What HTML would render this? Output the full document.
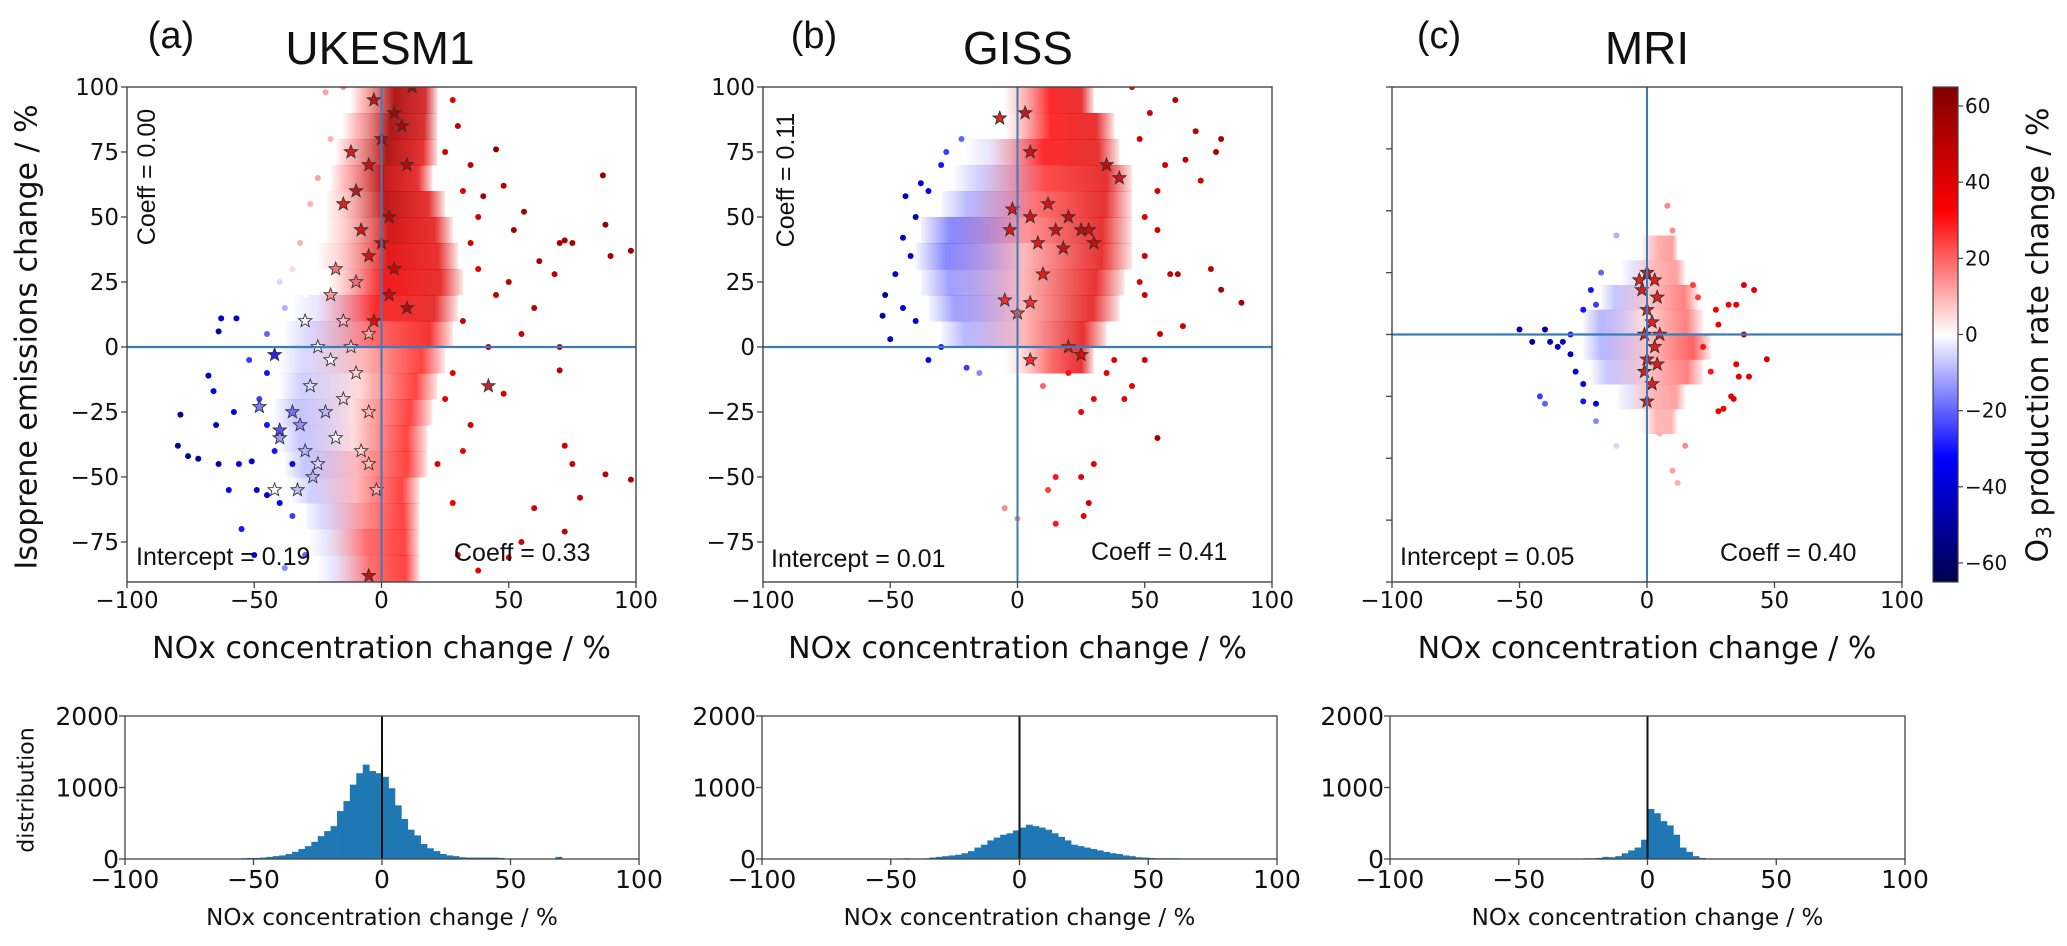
<!DOCTYPE html>
<html><head><meta charset="utf-8">
<style>
html,body{margin:0;padding:0;background:#fff;}
svg{display:block;}
text{font-family:"DejaVu Sans","Liberation Sans",sans-serif;fill:#111;}
.ar{font-family:"Liberation Sans",Arial,sans-serif;}
</style></head>
<body>
<svg id="fig" xmlns="http://www.w3.org/2000/svg" width="2067" height="946" viewBox="0 0 2067 946"></svg>
<script>
// ---------- DATA ----------
const xTicks = [-100,-50,0,50,100];
const yTicksAB = [-75,-50,-25,0,25,50,75,100];
const yTicksC = [-100,-75,-50,-25,0,25,50,75,100];
const cbTicks = [-60,-40,-20,0,20,40,60];
const histYTicks = [0,1000,2000];
const histBinWidth = 2.5;

// dense-core row bands: [yCenter, xMin, xMax, colorLeft, colorMid, colorRight]
const ukBands = [[95,-12,22,15,55,45],[85,-15,22,15,55,45],[75,-18,22,15,55,40],[65,-20,20,15,50,40],[55,-22,25,10,50,40],[45,-22,28,10,45,40],[35,-25,30,8,40,40],[25,-30,32,0,35,40],[15,-35,30,-5,30,40],[5,-38,28,-8,20,35],[-5,-40,25,-8,10,30],[-15,-40,22,-10,5,30],[-25,-42,20,-12,5,30],[-35,-40,18,-12,5,30],[-45,-38,18,-12,10,30],[-55,-35,15,-10,10,30],[-65,-30,15,-8,15,30],[-75,-28,15,-5,20,30],[-85,-25,15,-5,20,30]];
const gissBands = [[95,-5,30,10,30,40],[85,-12,38,0,30,40],[75,-20,40,-5,30,40],[65,-25,45,-10,25,40],[55,-30,45,-15,20,40],[45,-38,45,-25,15,40],[35,-40,45,-25,10,40],[25,-38,42,-20,10,40],[15,-35,40,-20,10,40],[5,-30,35,-15,10,40],[-5,-5,30,5,20,40]];
const mriBands = [[35,-2,12,8,12,15],[25,-10,15,-5,10,15],[15,-18,20,-12,8,20],[5,-25,22,-15,5,20],[-5,-25,25,-15,8,25],[-15,-22,22,-12,8,20],[-25,-12,15,-5,10,15],[-35,-5,12,0,10,12]];

// scatter points [x, y, O3 change]
const ukPoints = [[87,66,60],[88,47,60],[98,37,60],[90,35,55],[75,40,55],[70,40,55],[72,41,55],[68,28,50],[62,33,55],[56,52,55],[52,45,55],[45,76,60],[48,62,50],[40,58,55],[38,50,45],[45,20,50],[50,25,50],[60,15,50],[55,5,45],[42,0,50],[70,0,50],[70,-9,50],[48,-18,45],[35,-30,45],[72,-38,45],[75,-45,45],[78,-58,45],[98,-51,55],[88,-49,50],[60,-62,45],[72,-71,50],[50,-81,40],[38,-86,40],[55,-75,45],[30,-80,40],[28,-60,35],[32,-40,35],[35,70,50],[30,85,45],[28,95,40],[25,75,45],[32,60,40],[35,40,45],[38,30,40],[32,10,45],[28,-10,40],[25,-20,40],[22,-45,40],
[-63,11,-45],[-64,6,-50],[-57,11,-40],[-68,-11,-45],[-66,-17,-40],[-79,-26,-50],[-80,-38,-50],[-76,-42,-50],[-72,-43,-50],[-65,-30,-45],[-64,-45,-45],[-56,-45,-40],[-51,-44,-40],[-49,-55,-45],[-45,-57,-40],[-50,-80,-35],[-40,-60,-40],[-55,-70,-30],[-45,-30,-30],[-48,-20,-25],[-52,-5,-25],[-45,5,-20],[-42,-40,-30],[-35,-65,-25],[-30,-80,-20],[-38,-85,-15],[-58,-25,-35],[-60,-55,-35],[-35,-45,-35],[-45,-10,-30],
[-35,30,5],[-32,40,10],[-28,55,10],[-25,65,12],[-20,80,10],[-22,98,12],[-15,100,15],[-30,20,0],[-38,15,-10],[-40,25,-5]];
const ukStars = [[-30,10,2],[-25,0,0],[-20,-5,0],[-28,-15,-5],[-22,-25,-10],[-32,-30,-15],[-35,-25,-20],[-40,-35,-15],[-30,-40,-10],[-25,-45,-5],[-18,-35,0],[-15,-20,5],[-10,-10,5],[-12,0,5],[-5,5,10],[-15,10,8],[-42,-55,0],[-48,-23,-20],[-27,-50,-10],[-8,-40,5],[-5,-25,10],[-20,20,15],[-18,30,20],[-10,25,20],[-42,-3,-35],[-40,-32,-25],[-33,-55,-10],[-5,-45,8],[-2,-55,10],
[-10,60,50],[-5,70,45],[0,80,50],[5,90,55],[-3,95,50],[8,85,55],[3,50,50],[-8,45,45],[-15,55,40],[0,40,50],[5,30,45],[-5,35,40],[10,15,50],[3,20,45],[-3,10,40],[42,-15,50],[-5,-88,50],[12,100,55],[10,70,50],[-12,75,45]];
const gissPoints = [[-52,20,-50],[-53,12,-50],[-50,3,-45],[-44,58,-45],[-40,50,-45],[-45,42,-45],[-42,35,-40],[-48,28,-40],[-35,60,-35],[-38,63,-40],[-30,70,-30],[-28,75,-25],[-22,80,-20],[-40,10,-40],[-45,15,-40],[-35,-5,-35],[-20,-8,-25],[-15,-10,-15],[-30,0,-30],
[80,80,55],[78,75,55],[70,83,50],[62,95,50],[88,17,55],[80,22,55],[76,30,50],[66,72,50],[72,64,45],[55,60,45],[60,28,45],[63,28,50],[65,8,45],[56,5,45],[50,-5,45],[48,80,45],[52,90,45],[58,70,45],[45,100,45],[55,45,45],[50,35,45],[50,20,45],[50,50,40],[45,-15,40],[42,-20,40],[48,25,40],
[30,-45,40],[25,-50,40],[28,-60,45],[26,-65,40],[15,-50,30],[12,-55,25],[-5,-62,15],[0,-66,15],[15,-68,30],[55,-35,55],[30,-20,35],[20,-10,30],[10,-15,20],[35,-10,40],[25,-25,35],[38,-5,40]];
const gissStars = [[3,90,50],[-7,88,45],[5,75,45],[-2,53,40],[5,50,45],[-3,45,40],[8,40,40],[15,45,45],[20,50,50],[25,45,50],[18,38,45],[30,40,45],[35,70,50],[40,65,45],[10,28,35],[-5,18,30],[5,17,30],[0,13,25],[5,-5,30],[20,0,35],[25,-3,40],[28,45,45],[12,55,40]];
const mriPoints = [[-50,2,-50],[-45,-3,-50],[-40,2,-50],[-38,-3,-45],[-35,-5,-45],[-33,-3,-45],[-30,-8,-45],[-28,-15,-40],[-42,-25,-25],[-40,-28,-20],[-25,-20,-35],[-20,-28,-35],[-25,-27,-30],[-22,18,-30],[-25,10,-30],[-20,12,-25],[-30,0,-30],[-18,25,-20],[-12,40,-10],[-20,-35,-15],
[38,20,40],[42,18,40],[35,12,40],[32,12,35],[27,10,35],[28,4,35],[47,-10,45],[35,-12,40],[36,-17,40],[33,-25,40],[34,-26,40],[28,-31,35],[30,-30,35],[40,-17,40],[38,0,55],[22,-5,30],[25,-15,30],[18,20,25],[20,15,25],
[8,52,15],[10,42,15],[5,36,10],[-2,48,0],[10,-55,12],[12,-60,10],[15,-45,15],[-12,-45,-5],[5,-40,10]];
const mriStars = [[0,25,50],[3,22,40],[-2,18,45],[4,15,40],[0,10,45],[2,5,40],[-1,0,45],[3,-5,40],[0,-10,45],[4,-12,40],[-1,-15,45],[2,-20,40],[0,-27,45],[-3,22,40],[5,0,40]];

// histograms: bin centres and counts
const ukHistX = [-53.75,-51.25,-48.75,-46.25,-43.75,-41.25,-38.75,-36.25,-33.75,-31.25,-28.75,-26.25,-23.75,-21.25,-18.75,-16.25,-13.75,-11.25,-8.75,-6.25,-3.75,-1.25,1.25,3.75,6.25,8.75,11.25,13.75,16.25,18.75,21.25,23.75,26.25,28.75,31.25,33.75,36.25,38.75,41.25,43.75,46.25,68.75];
const ukHistN = [10,15,15,20,30,40,50,70,100,140,180,240,320,390,460,670,810,1040,1200,1320,1230,1200,1150,990,750,560,410,330,210,150,110,70,50,40,25,20,20,20,20,20,15,30];
const gissHistX = [-43.75,-38.75,-36.25,-33.75,-31.25,-28.75,-26.25,-23.75,-21.25,-18.75,-16.25,-13.75,-11.25,-8.75,-6.25,-3.75,-1.25,1.25,3.75,6.25,8.75,11.25,13.75,16.25,18.75,21.25,23.75,26.25,28.75,31.25,33.75,36.25,38.75,41.25,43.75,46.25,48.75,51.25,53.75,56.25,58.75,61.25];
const gissHistN = [10,5,10,20,30,40,50,60,80,110,160,200,260,300,340,360,400,440,480,460,440,410,360,310,260,200,180,160,140,120,100,80,70,50,40,25,20,15,10,10,10,10];
const mriHistX = [-23.75,-21.25,-18.75,-16.25,-13.75,-11.25,-8.75,-6.25,-3.75,-1.25,1.25,3.75,6.25,8.75,11.25,13.75,16.25,18.75,21.25];
const mriHistN = [10,10,15,30,25,40,80,120,160,270,700,640,530,470,340,160,100,40,15];

// ---------- RENDERING ----------
const NS = "http://www.w3.org/2000/svg";
const svg = document.getElementById('fig');
function mk(tag, attrs, parent){ const e=document.createElementNS(NS,tag); for(const k in attrs) e.setAttribute(k,attrs[k]); (parent||svg).appendChild(e); return e; }
function txt(s, attrs, parent){ const e=mk('text',attrs,parent); e.textContent=s; return e; }

function seismic(v){
  let t=(v+65)/130; t=Math.max(0,Math.min(1,t));
  const st=[[0,0,0,0.3],[0.25,0,0,1],[0.5,1,1,1],[0.75,1,0,0],[1,0.5,0,0]];
  for(let i=0;i<st.length-1;i++){ const a=st[i],b=st[i+1]; if(t<=b[0]){ const f=(t-a[0])/(b[0]-a[0]); const c=[1,2,3].map(j=>Math.round(255*(a[j]+(b[j]-a[j])*f))); return `rgb(${c[0]},${c[1]},${c[2]})`; } }
  return 'rgb(128,0,0)';
}
function starPts(cx,cy,r){ let p=[]; for(let i=0;i<10;i++){ const a=-Math.PI/2+i*Math.PI/5; const rr=i%2?r*0.42:r; p.push((cx+rr*Math.cos(a)).toFixed(1)+','+(cy+rr*Math.sin(a)).toFixed(1)); } return p.join(' '); }

const defs = mk('defs',{});
const panels = [
 {id:'ukesm1', L:127, R:636, T:87, B:582, ymin:-90.4, ymax:100, yt:yTicksAB, ylab:true, bands:ukBands, pts:ukPoints, stars:ukStars, letter:'(a)', lx:171, title:'UKESM1', tx:380,
  txt:[['Intercept = 0.19',136,565],['Coeff = 0.33',454,561]], vc:[147,177,'Coeff = 0.00'],
  hx:ukHistX, hn:ukHistN, hL:125, hR:639},
 {id:'giss', L:763, R:1272, T:87, B:582, ymin:-90.4, ymax:100, yt:yTicksAB, ylab:true, bands:gissBands, pts:gissPoints, stars:gissStars, letter:'(b)', lx:814, title:'GISS', tx:1018,
  txt:[['Intercept = 0.01',771,567],['Coeff = 0.41',1091,560]], vc:[786,180,'Coeff = 0.11'],
  hx:gissHistX, hn:gissHistN, hL:762, hR:1277},
 {id:'mri', L:1392, R:1902, T:87, B:582, ymin:-100, ymax:100, yt:yTicksC, ylab:false, bands:mriBands, pts:mriPoints, stars:mriStars, letter:'(c)', lx:1439, title:'MRI', tx:1647,
  txt:[['Intercept = 0.05',1400,565],['Coeff = 0.40',1720,561]], vc:null,
  hx:mriHistX, hn:mriHistN, hL:1390, hR:1905}
];

panels.forEach((p,pi)=>{
  const sx = v => p.L + (v+100)/200*(p.R-p.L);
  const sy = v => p.B - (v-p.ymin)/(p.ymax-p.ymin)*(p.B-p.T);
  const g = mk('g',{});
  
  
  const cp = mk('clipPath',{id:'clip'+pi},defs); mk('rect',{x:p.L,y:p.T,width:p.R-p.L,height:p.B-p.T},cp);
  const inner = mk('g',{'clip-path':`url(#clip${pi})`},g);
  p.bands.forEach((b,bi)=>{
    const gid='grad'+pi+'_'+bi;
    const lg=mk('linearGradient',{id:gid,x1:0,x2:1,y1:0,y2:0},defs);
    mk('stop',{offset:'0','stop-color':seismic(b[3]),'stop-opacity':0.05},lg);
    mk('stop',{offset:'0.14','stop-color':seismic(b[3]),'stop-opacity':0.6},lg);
    mk('stop',{offset:'0.5','stop-color':seismic(b[4]),'stop-opacity':0.9},lg);
    mk('stop',{offset:'0.86','stop-color':seismic(b[5]),'stop-opacity':0.8},lg);
    mk('stop',{offset:'1','stop-color':seismic(b[5]),'stop-opacity':0.1},lg);
    const h = Math.abs(sy(b[0]+5)-sy(b[0]-5));
    const r = mk('rect',{x:sx(b[1]),y:sy(b[0]+5),width:sx(b[2])-sx(b[1]),height:h+0.5,fill:`url(#${gid})`},inner);
    
    
  });
  p.pts.forEach(d=>{
    const c = mk('circle',{cx:sx(d[0]),cy:sy(d[1]),r:3,fill:seismic(d[2])},inner);
    
    
  });
  p.stars.forEach(d=>{
    const s = mk('polygon',{points:starPts(sx(d[0]),sy(d[1]),7),fill:seismic(d[2]),stroke:'#333','stroke-width':0.9,'fill-opacity':0.85},inner);
    
    
  });
  mk('line',{x1:sx(0),x2:sx(0),y1:p.T,y2:p.B,stroke:'#3b7dbb','stroke-width':2},g);
  mk('line',{x1:p.L,x2:p.R,y1:sy(0),y2:sy(0),stroke:'#3b7dbb','stroke-width':2.2},g);
  mk('rect',{x:p.L,y:p.T,width:p.R-p.L,height:p.B-p.T,fill:'none',stroke:'#444','stroke-width':1.4},g);
  xTicks.forEach(t=>{
    mk('line',{x1:sx(t),x2:sx(t),y1:p.B,y2:p.B+6,stroke:'#444','stroke-width':1.3},g);
    const e=txt(String(t).replace('-','\u2212'),{x:sx(t),y:608,'text-anchor':'middle','font-size':23},g);
    
    
  });
  p.yt.forEach(t=>{
    mk('line',{x1:p.L-6,x2:p.L,y1:sy(t),y2:sy(t),stroke:'#444','stroke-width':1.3},g);
    if(p.ylab){
      const e=txt(String(t).replace('-','\u2212'),{x:p.L-8,y:sy(t)+8,'text-anchor':'end','font-size':23},g);
      
      
    }
  });
  p.txt.forEach(a=>{
    const e=txt(a[0],{x:a[1],y:a[2],'font-size':25,class:'ar'},g);
    
    
  });
  if(p.vc){
    const e=txt(p.vc[2],{x:p.vc[0],y:p.vc[1],'font-size':25,class:'ar','text-anchor':'middle','dominant-baseline':'central',transform:`rotate(-90 ${p.vc[0]} ${p.vc[1]})`},g);
    
    
  }
  const lt=txt(p.letter,{x:p.lx,y:48,'font-size':38,class:'ar','text-anchor':'middle'},g);
  
  
  const tt=txt(p.title,{x:p.tx,y:64,'font-size':46,class:'ar','text-anchor':'middle'},g);
  
  
  const xl=txt('NOx concentration change / %',{x:(p.L+p.R)/2,y:658,'font-size':30,'text-anchor':'middle'},g);
  
  

  const hg = mk('g',{});
  
  
  const HT=716, HB=859;
  const hx = v => p.hL + (v+100)/200*(p.hR-p.hL);
  const hy = v => HB - v/2000*(HB-HT);
  p.hx.forEach((c,i)=>{
    const x0=hx(c-histBinWidth/2), x1=hx(c+histBinWidth/2);
    const b=mk('rect',{x:x0,y:hy(p.hn[i]),width:x1-x0+0.4,height:HB-hy(p.hn[i]),fill:'#1f77b4'},hg);
    
    
  });
  mk('line',{x1:hx(0),x2:hx(0),y1:HT,y2:HB,stroke:'#111','stroke-width':2},hg);
  mk('rect',{x:p.hL,y:HT,width:p.hR-p.hL,height:HB-HT,fill:'none',stroke:'#444','stroke-width':1.3},hg);
  xTicks.forEach(t=>{
    mk('line',{x1:hx(t),x2:hx(t),y1:HB,y2:HB+6,stroke:'#444','stroke-width':1.3},hg);
    const e=txt(String(t).replace('-','\u2212'),{x:hx(t),y:888,'text-anchor':'middle','font-size':25},hg);
    
    
  });
  histYTicks.forEach(t=>{
    mk('line',{x1:p.hL-6,x2:p.hL,y1:hy(t),y2:hy(t),stroke:'#444','stroke-width':1.3},hg);
    const e=txt(String(t),{x:p.hL-6,y:hy(t)+9,'text-anchor':'end','font-size':25},hg);
    
    
  });
  const hxl=txt('NOx concentration change / %',{x:(p.hL+p.hR)/2,y:925,'font-size':23,'text-anchor':'middle'},hg);
  
  
});

const yl=txt('Isoprene emissions change / %',{x:27,y:337,'font-size':30,'text-anchor':'middle','dominant-baseline':'central',transform:'rotate(-90 27 337)'});


const dl=txt('distribution',{x:27,y:790,'font-size':22,'text-anchor':'middle','dominant-baseline':'central',transform:'rotate(-90 27 790)'});



const CB={L:1933,R:1958,T:87,B:582,min:-65,max:65};
const cg=mk('linearGradient',{id:'cbgrad',x1:0,x2:0,y1:1,y2:0},defs);
[0,0.25,0.5,0.75,1].forEach(f=>mk('stop',{offset:f,'stop-color':seismic(-65+130*f)},cg));
const cbr=mk('rect',{x:CB.L,y:CB.T,width:CB.R-CB.L,height:CB.B-CB.T,fill:'url(#cbgrad)',stroke:'#444','stroke-width':1.2});


const cby = v => CB.B-(v-CB.min)/(CB.max-CB.min)*(CB.B-CB.T);
cbTicks.forEach(t=>{
  mk('line',{x1:CB.R,x2:CB.R+5,y1:cby(t),y2:cby(t),stroke:'#444','stroke-width':1.2});
  const e=txt(String(t).replace('-','\u2212'),{x:CB.R+7,y:cby(t)+7,'font-size':20});
  
  
});
const cl=mk('text',{x:2038,y:335,'font-size':30,'text-anchor':'middle','dominant-baseline':'central',transform:'rotate(-90 2038 335)'});


cl.appendChild(document.createTextNode('O'));
const sub=mk('tspan',{'font-size':20,dy:6},cl); sub.textContent='3';
const rest=mk('tspan',{dy:-6},cl); rest.textContent=' production rate change / %';
</script>
</body></html>
